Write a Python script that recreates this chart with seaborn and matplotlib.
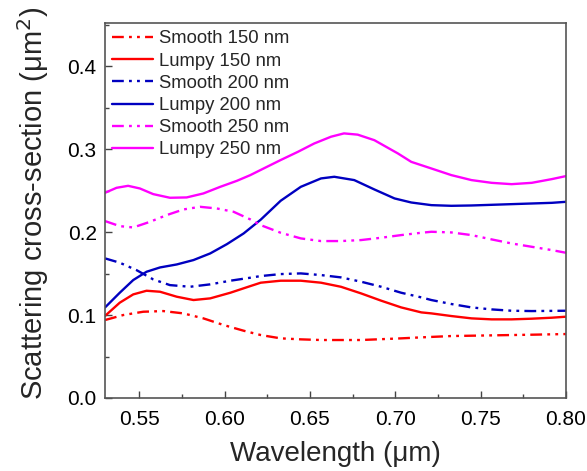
import numpy as np
import pandas as pd
import matplotlib
matplotlib.use("Agg")
import matplotlib.pyplot as plt
import seaborn as sns
from matplotlib.ticker import MultipleLocator

# values (wavelength in um, cross-section in um^2)
x_s150 = [0.530, 0.5406, 0.5524, 0.5641, 0.5759, 0.5876, 0.5994, 0.6112, 0.6212, 0.6329, 0.6447, 0.6565,
          0.680, 0.7035, 0.7153, 0.7329, 0.7565, 0.780, 0.800]
y_s150 = [0.094, 0.100, 0.104, 0.1048, 0.102, 0.096, 0.088, 0.0811, 0.0759, 0.0719, 0.0707, 0.0699,
          0.0699, 0.0719, 0.0731, 0.0747, 0.0755, 0.0763, 0.0771]

x_l150 = [0.530, 0.5386, 0.5465, 0.5543, 0.5622, 0.572, 0.5818, 0.5916, 0.6034, 0.6151, 0.6212, 0.6329,
          0.6447, 0.6565, 0.6682, 0.680, 0.6918, 0.7035, 0.7153, 0.7212, 0.7329, 0.7447, 0.7565, 0.7682,
          0.780, 0.7918, 0.800]
y_l150 = [0.099, 0.1149, 0.1249, 0.1293, 0.1281, 0.1221, 0.1181, 0.1201, 0.1269, 0.1349, 0.1390, 0.1414,
          0.1414, 0.1390, 0.1341, 0.1261, 0.1173, 0.1092, 0.1032, 0.1020, 0.0988, 0.0960, 0.0948, 0.0948,
          0.0956, 0.0968, 0.098]

x_s200 = [0.530, 0.5386, 0.5484, 0.5582, 0.568, 0.5798, 0.5916, 0.6034, 0.6151, 0.6212, 0.6329, 0.6447,
          0.6565, 0.6682, 0.680, 0.6918, 0.7035, 0.7153, 0.7212, 0.7329, 0.7447, 0.7565, 0.7682, 0.780, 0.800]
y_s200 = [0.1683, 0.1631, 0.1542, 0.1430, 0.1361, 0.1341, 0.1370, 0.1414, 0.1450, 0.1470, 0.1494, 0.1502,
          0.1482, 0.1454, 0.1402, 0.1341, 0.1269, 0.1213, 0.1181, 0.1133, 0.1092, 0.1068, 0.1052, 0.1048, 0.1052]

x_l200 = [0.530, 0.5386, 0.5465, 0.5543, 0.5622, 0.572, 0.5818, 0.5916, 0.6014, 0.6112, 0.6212, 0.6329,
          0.6447, 0.6565, 0.6643, 0.676, 0.6878, 0.6996, 0.7094, 0.7212, 0.7329, 0.7447, 0.7565, 0.7682,
          0.780, 0.7918, 0.800]
y_l200 = [0.1092, 0.1269, 0.1422, 0.1522, 0.1574, 0.1610, 0.1663, 0.1743, 0.1855, 0.1984, 0.2150, 0.2378,
          0.2546, 0.2647, 0.2667, 0.2627, 0.2514, 0.2406, 0.2357, 0.2325, 0.2317, 0.2321, 0.2329, 0.2337,
          0.2345, 0.2353, 0.2365]

x_s250 = [0.530, 0.5386, 0.5465, 0.5563, 0.5661, 0.5759, 0.5857, 0.5955, 0.6053, 0.6151, 0.6212, 0.6329,
          0.6447, 0.6565, 0.6682, 0.680, 0.6918, 0.7035, 0.7153, 0.7212, 0.7329, 0.7447, 0.7565, 0.7682,
          0.780, 0.7918, 0.800]
y_s250 = [0.2133, 0.2072, 0.2056, 0.2124, 0.2205, 0.2273, 0.2305, 0.2285, 0.2245, 0.2153, 0.2084, 0.1992,
          0.1924, 0.1892, 0.1892, 0.1904, 0.1932, 0.1964, 0.1992, 0.2004, 0.1996, 0.1964, 0.1912, 0.1863,
          0.1823, 0.1783, 0.1751]

x_l250 = [0.530, 0.5367, 0.5435, 0.5504, 0.5582, 0.568, 0.5778, 0.5876, 0.5975, 0.6072, 0.6151, 0.6229,
          0.633, 0.643, 0.6525, 0.6624, 0.670, 0.678, 0.6878, 0.7016, 0.7094, 0.7212, 0.7329, 0.7447,
          0.7565, 0.7682, 0.780, 0.7918, 0.800]
y_l250 = [0.2474, 0.2534, 0.2558, 0.2526, 0.2458, 0.2414, 0.2418, 0.2466, 0.2546, 0.2618, 0.2687, 0.2767,
          0.2870, 0.2968, 0.3068, 0.3150, 0.3190, 0.3175, 0.3108, 0.2948, 0.2847, 0.2767, 0.2687, 0.2627,
          0.2594, 0.2578, 0.2594, 0.2639, 0.2675]

series = [
    ("Smooth 150 nm", x_s150, y_s150, "#ff0000", True),
    ("Lumpy 150 nm", x_l150, y_l150, "#ff0000", False),
    ("Smooth 200 nm", x_s200, y_s200, "#0000c0", True),
    ("Lumpy 200 nm", x_l200, y_l200, "#0000c0", False),
    ("Smooth 250 nm", x_s250, y_s250, "#ff00ff", True),
    ("Lumpy 250 nm", x_l250, y_l250, "#ff00ff", False),
]

sns.set_style("ticks")
plt.rcParams['font.family'] = ['Liberation Sans', 'DejaVu Sans']

fig = plt.figure(figsize=(5.87, 4.71), dpi=100)
ax = fig.add_axes([0.179, 0.155, 0.785, 0.796])

dash_dot_dot = (0, (5, 2.2, 1.2, 2.2, 1.2, 2.2))
for name, xs, ys, col, smooth in series:
    df = pd.DataFrame({'x': xs, 'y': ys})
    sns.lineplot(data=df, x='x', y='y', ax=ax, color=col, lw=1.7,
                 linestyle=dash_dot_dot if smooth else '-', label=name)

ax.set_xlim(0.53, 0.80)
ax.set_ylim(0.0, 0.452)
ax.xaxis.set_major_locator(MultipleLocator(0.05))
ax.xaxis.set_minor_locator(MultipleLocator(0.025))
ax.yaxis.set_major_locator(MultipleLocator(0.1))
ax.yaxis.set_minor_locator(MultipleLocator(0.05))
ax.xaxis.set_major_formatter(plt.FormatStrFormatter('%.2f'))
ax.yaxis.set_major_formatter(plt.FormatStrFormatter('%.1f'))
ax.tick_params(which='both', direction='in', top=False, right=False,
               colors='#444444', labelcolor='black', labelsize=15)
ax.tick_params(axis='x', pad=9)
ax.tick_params(axis='y', pad=6)
ax.tick_params(which='major', length=5, width=1)
ax.tick_params(which='minor', length=3, width=1)
for sp in ax.spines.values():
    sp.set_color('#555555')
    sp.set_linewidth(1.2)

ax.set_xlabel('Wavelength (μm)', fontsize=20, labelpad=8)
ax.set_ylabel('Scattering cross-section (μm$^2$)', fontsize=21)
ax.yaxis.set_label_coords(-0.118, 0.52)

ax.legend(loc='upper left', frameon=False, fontsize=13.3, handlelength=2.2,
          handletextpad=0.3, labelspacing=0.28, borderaxespad=0.2,
          borderpad=0.2)

plt.savefig('out.png', dpi=100)
